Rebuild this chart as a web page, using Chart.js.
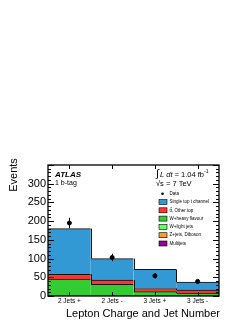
<!DOCTYPE html>
<html>
<head>
<meta charset="utf-8">
<script src="https://cdn.jsdelivr.net/npm/chart.js@4.4.1/dist/chart.umd.min.js"></script>
<style>
    html, body { margin: 0; padding: 0; background: #fff; }
    canvas { display: block; }
</style>
</head>
<body>
<canvas id="eventsChart" width="249" height="323"></canvas>
<script>
// bins
const categories = ['2 Jets +', '2 Jets -', '3 Jets +', '3 Jets -'];

// stacked MC, bottom to top
const multijet = [0.5, 0.5, 0.5, 0.5];
const zDiboson = [0.5, 0.5, 0.5, 0.5];
const wLight = [1, 1, 1, 1];
const wHeavy = [43, 29, 9.5, 6];
const ttOther = [13, 11.5, 8.5, 8];
const singleTop = [122, 57.5, 51, 21];

// data points
const dataValues = [195, 103, 54, 39];
const dataErrors = [14, 10, 7, 6];

const yTicks = [0, 50, 100, 150, 200, 250, 300];

const FONT = "'Liberation Sans', Arial, Helvetica, sans-serif";

const stackSeries = [
    { label: 'Multijets', values: multijet, color: '#990099' },
    { label: 'Z+jets, Diboson', values: zDiboson, color: '#ff9933' },
    { label: 'W+light jets', values: wLight, color: '#66ff66' },
    { label: 'W+heavy flavour', values: wHeavy, color: '#33cc33' },
    { label: 'tt\u0304, Other top', values: ttOther, color: '#ff3333' },
    { label: 'Single top t channel', values: singleTop, color: '#3399d4' }
];

const datasets = stackSeries.map(s => ({
    type: 'bar',
    label: s.label,
    data: s.values,
    backgroundColor: s.color,
    borderColor: '#111',
    borderWidth: { top: 1, right: 0, bottom: 0, left: 0 },
    borderSkipped: false,
    stack: 'mc',
    order: 1,
    categoryPercentage: 1.0,
    barPercentage: 1.0
}));

// data on top of the stack
datasets.push({
    type: 'line',
    label: 'Data',
    data: dataValues,
    showLine: false,
    stack: 'data',
    order: 0,
    pointRadius: 2,
    pointBackgroundColor: '#000',
    pointBorderColor: '#000',
    borderColor: '#000'
});

// frame, ticks, steps, error bars and the text boxes
const atlasDecor = {
    id: 'atlasDecor',
    afterDatasetsDraw(chart) {
        const ctx = chart.ctx;
        const { left, right, top, bottom } = chart.chartArea;
        const xs = chart.scales.x;
        const ys = chart.scales.y;
        ctx.save();

        // vertical steps of each cumulative histogram
        const cum = [];
        let run = [0, 0, 0, 0];
        stackSeries.forEach(s => {
            run = run.map((v, i) => v + s.values[i]);
            cum.push(run.slice());
        });
        ctx.strokeStyle = '#111';
        ctx.lineWidth = 1;
        cum.forEach(level => {
            for (let i = 0; i < level.length - 1; i++) {
                const bx = Math.round((xs.getPixelForValue(i) + xs.getPixelForValue(i + 1)) / 2) + 0.5;
                ctx.beginPath();
                ctx.moveTo(bx, ys.getPixelForValue(level[i]));
                ctx.lineTo(bx, ys.getPixelForValue(level[i + 1]));
                ctx.stroke();
            }
        });

        // data error bars
        ctx.strokeStyle = '#000';
        dataValues.forEach((v, i) => {
            const px = Math.round(xs.getPixelForValue(i)) + 0.5;
            ctx.beginPath();
            ctx.moveTo(px, ys.getPixelForValue(v - dataErrors[i]));
            ctx.lineTo(px, ys.getPixelForValue(v + dataErrors[i]));
            ctx.stroke();
        });

        // frame
        ctx.lineWidth = 1.3;
        ctx.strokeRect(left, top, right - left, bottom - top);

        // y ticks (left and right, inside)
        ctx.lineWidth = 1;
        for (let v = 0; v <= 350; v += 10) {
            const py = Math.round(ys.getPixelForValue(v)) + 0.5;
            const len = v % 50 === 0 ? 6 : 3;
            ctx.beginPath();
            ctx.moveTo(left, py);
            ctx.lineTo(left + len, py);
            ctx.moveTo(right, py);
            ctx.lineTo(right - len, py);
            ctx.stroke();
        }
        // x ticks at bin centres
        categories.forEach((c, i) => {
            const px = Math.round(xs.getPixelForValue(i)) + 0.5;
            ctx.beginPath();
            ctx.moveTo(px, bottom);
            ctx.lineTo(px, bottom - 4);
            ctx.moveTo(px, top);
            ctx.lineTo(px, top + 4);
            ctx.stroke();
        });

        ctx.fillStyle = '#000';
        ctx.textBaseline = 'middle';

        // axis titles
        ctx.font = '11px ' + FONT;
        ctx.textAlign = 'right';
        ctx.fillText('Lepton Charge and Jet Number', 220, 314);
        ctx.save();
        ctx.translate(14, 175);
        ctx.rotate(-Math.PI / 2);
        ctx.textAlign = 'center';
        ctx.fillText('Events', 0, 0);
        ctx.restore();

        // ATLAS label
        ctx.textAlign = 'left';
        ctx.font = 'italic bold 8px ' + FONT;
        ctx.fillText('ATLAS', 55, 175);
        ctx.font = '7px ' + FONT;
        ctx.fillText('1 b-tag', 55, 183);

        // luminosity and energy
        let tx = 156;
        ctx.font = '11px ' + FONT;
        ctx.fillText('\u222B', tx, 174);
        tx += ctx.measureText('\u222B').width + 1;
        ctx.font = 'italic 7.5px ' + FONT;
        ctx.fillText('L dt', tx, 175);
        tx += ctx.measureText('L dt').width;
        ctx.font = '7.5px ' + FONT;
        ctx.fillText(' = 1.04 fb', tx, 175);
        tx += ctx.measureText(' = 1.04 fb').width;
        ctx.font = '5px ' + FONT;
        ctx.fillText('-1', tx, 172);
        ctx.font = '7.5px ' + FONT;
        ctx.fillText('\u221As = 7 TeV', 156, 184);

        // legend
        ctx.font = '4.5px ' + FONT;
        ctx.beginPath();
        ctx.arc(162.5, 193.7, 1.3, 0, Math.PI * 2);
        ctx.fill();
        ctx.fillText('Data', 169.5, 193.7);
        const legendOrder = stackSeries.slice().reverse();
        legendOrder.forEach((s, k) => {
            const cy = 202 + k * 8.3;
            ctx.fillStyle = s.color;
            ctx.fillRect(159, cy - 2.5, 8, 5);
            ctx.strokeStyle = '#000';
            ctx.lineWidth = 0.6;
            ctx.strokeRect(159, cy - 2.5, 8, 5);
            ctx.fillStyle = '#000';
            ctx.fillText(s.label, 169.5, cy);
        });

        ctx.restore();
    }
};

new Chart(document.getElementById('eventsChart'), {
    data: {
        labels: categories,
        datasets: datasets
    },
    options: {
        responsive: false,
        animation: false,
        layout: { padding: { left: 0, top: 165, right: 30, bottom: 0 } },
        plugins: {
            legend: { display: false },
            tooltip: { enabled: false }
        },
        scales: {
            x: {
                stacked: true,
                grid: { display: false, drawTicks: false },
                border: { display: false },
                ticks: {
                    color: '#000',
                    padding: 1,
                    maxRotation: 0,
                    font: { family: FONT, size: 6.5 }
                },
                afterFit: (scale) => { scale.height = 27; }
            },
            y: {
                stacked: true,
                min: 0,
                max: 350,
                grid: { display: false, drawTicks: false },
                border: { display: false },
                afterBuildTicks: (scale) => {
                    scale.ticks = yTicks.map(v => ({ value: v }));
                },
                ticks: {
                    color: '#000',
                    padding: 2,
                    font: { family: FONT, size: 11 }
                },
                afterFit: (scale) => { scale.width = 48; }
            }
        }
    },
    plugins: [atlasDecor]
});
</script>
</body>
</html>
